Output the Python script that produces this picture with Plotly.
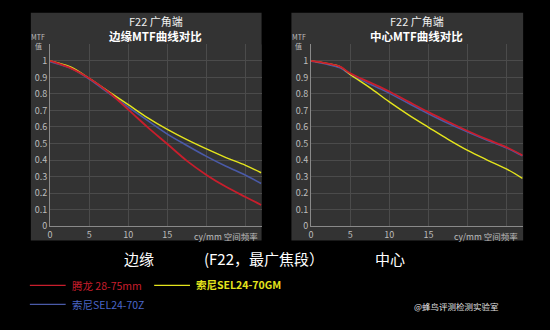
import plotly.graph_objects as go

W, H = 550, 330
FONT = "Noto Sans CJK SC"

# ---- data ----
freq_edge = [0, 1, 2.7, 5, 7.5, 10, 12.5, 15, 17.5, 20, 22.5, 25, 27]
tamron_edge = [1.0, 0.985, 0.955, 0.895, 0.81, 0.705, 0.598, 0.497, 0.395, 0.31, 0.238, 0.176, 0.128]
gm_edge =     [1.0, 0.988, 0.962, 0.895, 0.815, 0.735, 0.655, 0.585, 0.523, 0.467, 0.415, 0.368, 0.323]
z_edge =      [0.995, 0.982, 0.955, 0.89, 0.805, 0.72, 0.638, 0.557, 0.488, 0.422, 0.362, 0.308, 0.258]

freq_center = [0, 2, 3.7, 5, 7.5, 10, 12.5, 15, 17.5, 20, 22.5, 25, 27]
tamron_center = [1.0, 0.985, 0.965, 0.925, 0.87, 0.815, 0.752, 0.69, 0.632, 0.576, 0.525, 0.477, 0.428]
z_center =      [0.998, 0.98, 0.958, 0.918, 0.86, 0.805, 0.742, 0.68, 0.622, 0.570, 0.52, 0.472, 0.425]
gm_center =     [1.0, 0.985, 0.965, 0.918, 0.838, 0.752, 0.672, 0.598, 0.525, 0.458, 0.40, 0.345, 0.289]

x_ticks = [0, 5, 10, 15, 20, 25]
x_labels = ["0", "5", "10", "15", "", ""]
y_ticks = [0, 0.1, 0.2, 0.3, 0.4, 0.5, 0.6, 0.7, 0.8, 0.9, 1.0, 1.1]
y_labels = ["0", "0.1", "0.2", "0.3", "0.4", "0.5", "0.6", "0.7", "0.8", "0.9", "1", ""]

names = ["腾龙 28-75mm", "索尼SEL24-70GM", "索尼SEL24-70Z"]
colors = {"red": "#c81e2c", "yellow": "#e4e41c", "blue": "#4a5aa8"}

PANEL = "#333333"
GRID = "#4b4b4b"

def px(x):
    return x / W

def py(y):
    return 1 - y / H

fig = go.Figure()

panels = [
    ("x", "y", freq_edge, tamron_edge, gm_edge, z_edge),
    ("x2", "y2", freq_center, tamron_center, gm_center, z_center),
]
for xa, ya, f, t, g, z in panels:
    fig.add_trace(go.Scatter(x=f, y=z, mode="lines", line=dict(color=colors["blue"], width=1.6, shape="spline", smoothing=1.0),
                             xaxis=xa, yaxis=ya, showlegend=False, name=names[2]))
    fig.add_trace(go.Scatter(x=f, y=g, mode="lines", line=dict(color=colors["yellow"], width=1.4, shape="spline", smoothing=1.0),
                             xaxis=xa, yaxis=ya, showlegend=False, name=names[1]))
    fig.add_trace(go.Scatter(x=f, y=t, mode="lines", line=dict(color=colors["red"], width=1.8, shape="spline", smoothing=1.0),
                             xaxis=xa, yaxis=ya, showlegend=False, name=names[0]))

xcommon = dict(range=[0, 27.05], tickvals=x_ticks, ticktext=x_labels, showgrid=True, gridcolor=GRID, gridwidth=1,
               zeroline=False, showline=True, linecolor="#8a8a8a", linewidth=1, ticks="",
               tickfont=dict(family=FONT, size=9, color="#bdbdbd"), fixedrange=True)
ycommon = dict(range=[0, 1.1], tickvals=y_ticks, ticktext=y_labels, showgrid=True, gridcolor=GRID, gridwidth=1,
               zeroline=False, showline=True, linecolor="#8a8a8a", linewidth=1, ticks="",
               tickfont=dict(family=FONT, size=9, color="#bdbdbd"), fixedrange=True)

ydom = [py(230.3), py(45.2)]
fig.update_layout(
    width=W, height=H, margin=dict(l=0, r=0, t=0, b=0),
    paper_bgcolor="#000000", plot_bgcolor=PANEL,
    xaxis=dict(domain=[px(47.3), px(260)], anchor="y", **xcommon),
    yaxis=dict(domain=ydom, anchor="x", **ycommon),
    xaxis2=dict(domain=[px(309.7), px(522.7)], anchor="y2", **xcommon),
    yaxis2=dict(domain=ydom, anchor="x2", **ycommon),
    showlegend=False,
)

shapes = []
for x0, x1 in [(28, 260), (290, 523)]:
    shapes.append(dict(type="rect", xref="paper", yref="paper", x0=px(x0), x1=px(x1), y0=py(245), y1=py(13),
                       fillcolor=PANEL, line=dict(width=0), layer="below"))
# legend lines
for (x0, x1, y, c) in [(27, 63, 290.7, "red"), (152, 188, 290.7, "yellow"), (27, 63, 310, "blue")]:
    shapes.append(dict(type="line", xref="paper", yref="paper", x0=px(x0), x1=px(x1), y0=py(y), y1=py(y),
                       line=dict(color=colors[c], width=1.3)))
fig.update_layout(shapes=shapes)

ann = []
def text(x, y, s, size, color="#ffffff", xanchor="center", bold=False):
    if bold:
        s = "<b>" + s + "</b>"
    ann.append(dict(x=px(x), y=py(y), xref="paper", yref="paper", text=s, showarrow=False,
                    xanchor=xanchor, yanchor="middle", font=dict(family=FONT, size=size, color=color)))

# panel titles
text(153.6, 21, "F22 广角端", 11, "#f0f0f0")
text(153.6, 36.5, "边缘MTF曲线对比", 11.5, "#ffffff", bold=True)
text(416, 21, "F22 广角端", 11, "#f0f0f0")
text(416, 36.5, "中心MTF曲线对比", 11.5, "#ffffff", bold=True)
# MTF 值 labels
for xm in (35.5, 297.5):
    text(xm, 37.5, "MTF", 7, "#bdbdbd")
    text(xm, 46.5, "值", 7, "#bdbdbd")
# x axis unit
text(224, 240.5, "cy/mm 空间频率", 8.5, "#bdbdbd")
text(486, 240.5, "cy/mm 空间频率", 8.5, "#bdbdbd")
# bottom captions
text(137, 263, "边缘", 15)
text(262, 263, "(F22，最广焦段）", 15)
text(389, 263, "中心", 15)
# legend texts
text(67, 291, names[0], 10.5, colors["red"], xanchor="left")
text(192, 290, names[1], 10.5, colors["yellow"], xanchor="left", bold=True)
text(67, 310.5, names[2], 10.5, "#4a66c8", xanchor="left")
# watermark
text(456, 311.5, "@蜂鸟评测检测实验室", 8.5, "#e0e0e0")

fig.update_layout(annotations=ann)
fig.write_html("out.html")
